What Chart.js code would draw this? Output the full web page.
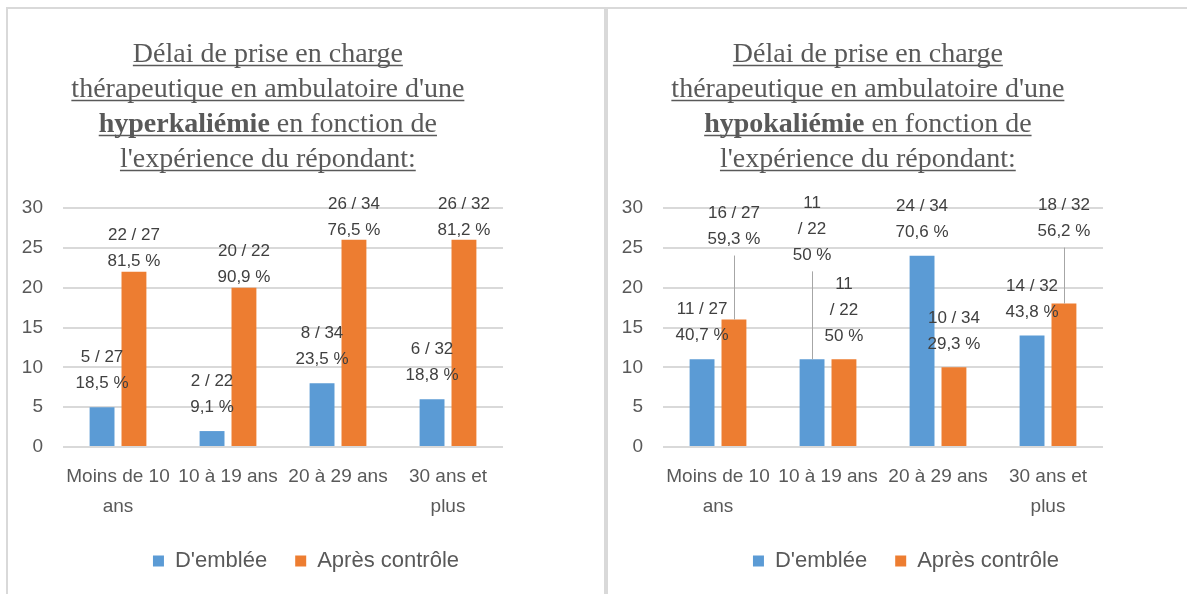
<!DOCTYPE html>
<html lang="fr">
<head>
<meta charset="UTF-8">
<title>Délai de prise en charge thérapeutique</title>
<script src="https://cdn.jsdelivr.net/npm/chart.js"></script>
<style>
  body { margin: 0; background: #fff; width: 1187px; height: 594px; overflow: hidden; position: relative; }
  .panel { position: absolute; top: 7px; width: 596px; height: 640px; border: 2px solid #d9d9d9; }
  #p1 { left: 6px; }
  #p2 { left: 606px; }
  canvas { display: block; }
</style>
</head>
<body>
<div class="panel" id="p1"><canvas id="hyper" width="596" height="620"></canvas></div>
<div class="panel" id="p2"><canvas id="hypo" width="596" height="620"></canvas></div>

<script>
// --- data ---
const categories = [['Moins de 10', 'ans'], '10 à 19 ans', '20 à 29 ans', ['30 ans et', 'plus']];
const seriesNames = ["D'emblée", 'Après contrôle'];
const yTicks = [0, 5, 10, 15, 20, 25, 30];

const hyperFirst = [5, 2, 8, 6];
const hyperAfter = [22, 20, 26, 26];
const hyperTotal = [27, 22, 34, 32];
const hyperFirstPct = ['18,5', '9,1', '23,5', '18,8'];
const hyperAfterPct = ['81,5', '90,9', '76,5', '81,2'];

const hypoFirst = [11, 11, 24, 14];
const hypoAfter = [16, 11, 10, 18];
const hypoTotal = [27, 22, 34, 32];
const hypoFirstPct = ['40,7', '50', '70,6', '43,8'];
const hypoAfterPct = ['59,3', '50', '29,3', '56,2'];

// label placement (px above the bar top), as Excel put them
const hyperLift = [[50, 50, 50, 50], [36, 36, 36, 36]];
const hyperWrap = [[false, false, false, false], [false, false, false, false]];
const hypoLift = [[50, 156, 49, 49], [106, 75, 49, 98]];
const hypoWrap = [[false, true, false, false], [false, true, false, false]];

const BLUE = '#5B9BD5';
const ORANGE = '#ED7D31';
const SANS = '"Liberation Sans", Arial, sans-serif';
const SERIF = '"Liberation Serif", "Times New Roman", serif';

// title with underline and one bold word
const titleBlock = {
  id: 'titleBlock',
  afterDraw(chart, args, opts) {
    const ctx = chart.ctx;
    ctx.save();
    ctx.fillStyle = '#595959';
    ctx.strokeStyle = '#595959';
    ctx.lineWidth = 1.3;
    ctx.textBaseline = 'alphabetic';
    ctx.textAlign = 'left';
    const cx = chart.width * 0.436;
    opts.lines.forEach((segs, k) => {
      const y = 53 + k * 35;
      let total = 0;
      const w = segs.map(s => {
        ctx.font = (s[1] ? 'bold ' : '') + '28px ' + SERIF;
        const m = ctx.measureText(s[0]).width;
        total += m;
        return m;
      });
      let x = cx - total / 2;
      segs.forEach((s, i) => {
        ctx.font = (s[1] ? 'bold ' : '') + '28px ' + SERIF;
        ctx.fillText(s[0], x, y);
        x += w[i];
      });
      ctx.beginPath();
      ctx.moveTo(cx - total / 2, y + 3.5);
      ctx.lineTo(cx + total / 2, y + 3.5);
      ctx.stroke();
    });
    ctx.restore();
  }
};

// "n / N" + "x %" labels with leader lines
const barLabels = {
  id: 'barLabels',
  afterDatasetsDraw(chart, args, opts) {
    const ctx = chart.ctx;
    ctx.save();
    ctx.font = '17px ' + SANS;
    ctx.textAlign = 'center';
    ctx.textBaseline = 'middle';
    chart.data.datasets.forEach((ds, di) => {
      chart.getDatasetMeta(di).data.forEach((bar, i) => {
        const v = ds.data[i];
        const lines = opts.wrap[di][i]
          ? [String(v), '/ ' + opts.totals[i], ds.pct[i] + ' %']
          : [v + ' / ' + opts.totals[i], ds.pct[i] + ' %'];
        const y0 = bar.y - opts.lift[di][i];
        const bottom = y0 + (lines.length - 1) * 26 + 16;
        if (bar.y - bottom > 8) {
          ctx.strokeStyle = '#a6a6a6';
          ctx.lineWidth = 1;
          ctx.beginPath();
          ctx.moveTo(Math.round(bar.x) + 0.5, bottom);
          ctx.lineTo(Math.round(bar.x) + 0.5, bar.y);
          ctx.stroke();
        }
        ctx.fillStyle = '#404040';
        lines.forEach((t, k) => ctx.fillText(t, bar.x, y0 + k * 26));
      });
    });
    ctx.restore();
  }
};

function makeChart(id, word, first, after, totals, firstPct, afterPct, lift, wrap) {
  return new Chart(document.getElementById(id), {
    type: 'bar',
    data: {
      labels: categories,
      datasets: [
        { label: seriesNames[0], data: first, pct: firstPct, backgroundColor: BLUE },
        { label: seriesNames[1], data: after, pct: afterPct, backgroundColor: ORANGE }
      ]
    },
    options: {
      responsive: false,
      animation: false,
      devicePixelRatio: 1,
      categoryPercentage: 0.58,
      barPercentage: 0.78,
      layout: { padding: { top: 199, left: 0, right: 0, bottom: 47 } },
      scales: {
        x: {
          grid: { display: false, drawTicks: false },
          border: { display: false },
          afterFit: s => { s.height = 75; },
          ticks: { color: '#595959', padding: 15, maxRotation: 0, font: { family: SANS, size: 19, lineHeight: 30 / 19 } }
        },
        y: {
          min: 0,
          max: 30,
          afterBuildTicks: scale => { scale.ticks = yTicks.map(v => ({ value: v })); },
          afterFit: s => { s.width = 55; },
          grid: { color: '#d9d9d9', lineWidth: 2, drawTicks: false },
          border: { display: false },
          ticks: { color: '#595959', padding: 20, font: { family: SANS, size: 19 } }
        },
        // empty right-hand axis: keeps the white margin right of the plot
        pad: {
          type: 'linear',
          position: 'right',
          grid: { display: false, drawTicks: false },
          border: { display: false },
          ticks: { display: false },
          afterFit: s => { s.width = 101; }
        }
      },
      plugins: {
        tooltip: { enabled: false },
        legend: {
          position: 'bottom',
          labels: { color: '#595959', boxWidth: 11, boxHeight: 11, padding: 28, font: { family: SANS, size: 22 } }
        },
        titleBlock: {
          lines: [
            [['Délai de prise en charge', false]],
            [["thérapeutique en ambulatoire d'une", false]],
            [[word, true], [' en fonction de', false]],
            [["l'expérience du répondant:", false]]
          ]
        },
        barLabels: { totals: totals, lift: lift, wrap: wrap }
      }
    },
    plugins: [titleBlock, barLabels]
  });
}

makeChart('hyper', 'hyperkaliémie', hyperFirst, hyperAfter, hyperTotal, hyperFirstPct, hyperAfterPct, hyperLift, hyperWrap);
makeChart('hypo', 'hypokaliémie', hypoFirst, hypoAfter, hypoTotal, hypoFirstPct, hypoAfterPct, hypoLift, hypoWrap);
</script>
</body>
</html>
